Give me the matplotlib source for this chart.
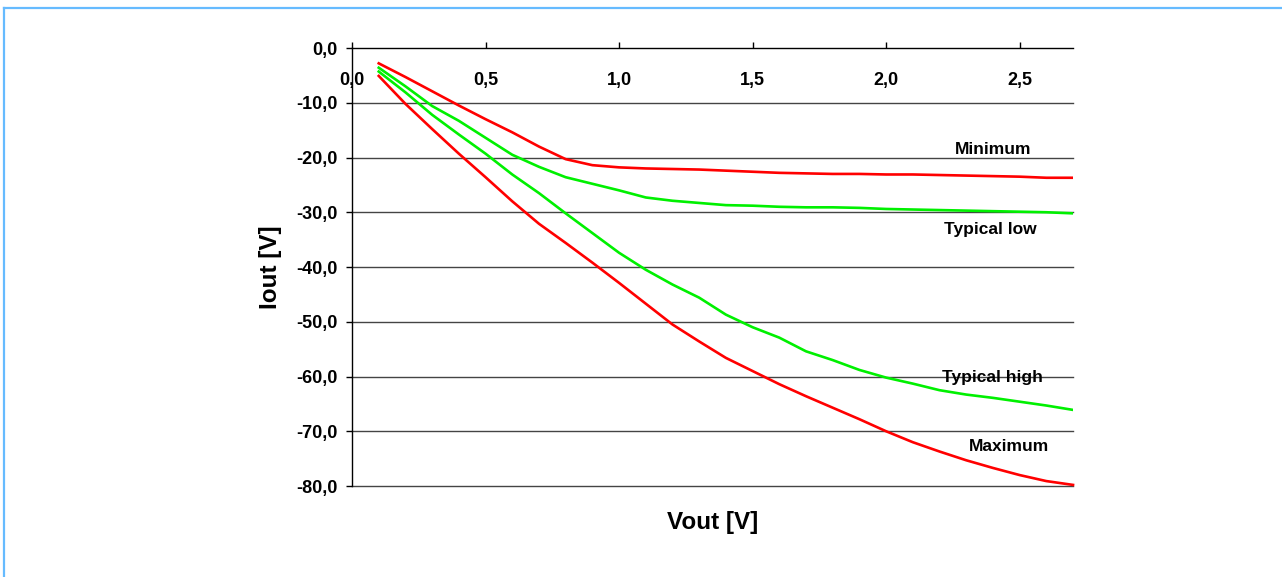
import matplotlib
matplotlib.use('Agg')
import matplotlib.pyplot as plt
from matplotlib.lines import Line2D
from matplotlib.ticker import FuncFormatter

# Vout [V]
vout = [0.1, 0.2, 0.3, 0.4, 0.5, 0.6, 0.7, 0.8, 0.9, 1.0, 1.1, 1.2, 1.3, 1.4,
        1.5, 1.6, 1.7, 1.8, 1.9, 2.0, 2.1, 2.2, 2.3, 2.4, 2.5, 2.6, 2.7]

# Iout curves
minimum = [-2.8, -5.3, -7.9, -10.5, -13.0, -15.4, -18.0, -20.3, -21.4, -21.8,
           -22.0, -22.1, -22.2, -22.4, -22.6, -22.8, -22.9, -23.0, -23.0, -23.1,
           -23.1, -23.2, -23.3, -23.4, -23.5, -23.7, -23.7]
typical_low = [-3.6, -7.0, -10.6, -13.3, -16.4, -19.5, -21.7, -23.6, -24.8, -26.0,
               -27.3, -27.9, -28.3, -28.7, -28.8, -29.0, -29.1, -29.1, -29.2, -29.4,
               -29.5, -29.6, -29.7, -29.8, -29.9, -30.0, -30.2]
typical_high = [-4.3, -8.1, -12.2, -15.8, -19.3, -23.1, -26.5, -30.2, -33.8, -37.4,
                -40.5, -43.2, -45.6, -48.7, -51.0, -52.9, -55.4, -57.0, -58.8, -60.2,
                -61.3, -62.5, -63.3, -63.9, -64.6, -65.3, -66.1]
maximum = [-5.1, -10.2, -14.8, -19.3, -23.6, -28.0, -32.1, -35.6, -39.2, -42.9,
           -46.7, -50.5, -53.6, -56.6, -59.0, -61.4, -63.6, -65.7, -67.8, -70.0,
           -72.0, -73.7, -75.3, -76.7, -78.0, -79.1, -79.8]

x_ticks = [0.0, 0.5, 1.0, 1.5, 2.0, 2.5]
y_ticks = [0, -10, -20, -30, -40, -50, -60, -70, -80]

# curve name labels: (text, x, y)
curve_labels = [('Minimum', 2.40, -18.6),
                ('Typical low', 2.39, -33.2),
                ('Typical high', 2.40, -60.1),
                ('Maximum', 2.46, -72.7)]

plt.rcParams['font.family'] = ['Liberation Sans', 'DejaVu Sans']
plt.rcParams['font.weight'] = 'bold'

fig = plt.figure(figsize=(12.82, 5.77), dpi=100)
ax = fig.add_axes([0.2746, 0.1577, 0.5624, 0.7591])

comma = FuncFormatter(lambda v, p: f'{v:.1f}'.replace('.', ','))

for yt in y_ticks:
    ax.axhline(yt, color='#444444' if yt != 0 else 'black', lw=1.0, zorder=1,
               clip_on=False)

ax.plot(vout, minimum, color='#ff0000', lw=1.9, zorder=3)
ax.plot(vout, typical_low, color='#00f000', lw=1.9, zorder=3)
ax.plot(vout, typical_high, color='#00f000', lw=1.9, zorder=3)
ax.plot(vout, maximum, color='#ff0000', lw=1.9, zorder=3, clip_on=False)

for txt, lx, ly in curve_labels:
    ax.text(lx, ly, txt, ha='center', va='center', fontsize=12.5,
            fontweight='bold', zorder=4)

ax.set_xlim(0, 2.7)
ax.set_ylim(-80, 0)
ax.set_xticks(x_ticks)
ax.set_yticks(y_ticks)
ax.xaxis.set_major_formatter(comma)
ax.yaxis.set_major_formatter(comma)
ax.xaxis.tick_top()
ax.tick_params(axis='x', direction='out', length=4.5, width=1, labelsize=13,
               pad=-34)
ax.tick_params(axis='y', direction='out', length=4.5, width=1, labelsize=13,
               pad=6)

for s in ['top', 'right', 'bottom']:
    ax.spines[s].set_visible(False)
ax.spines['left'].set_linewidth(1.0)

ax.set_xlabel('Vout [V]', fontsize=17.5, fontweight='bold', labelpad=18)
ax.xaxis.set_label_position('bottom')
ax.set_ylabel('Iout [V]', fontsize=17.5, fontweight='bold', labelpad=10)

# light blue frame on top and left edges
fig.add_artist(Line2D([3.5 / 1282, 1], [1 - 7.5 / 577, 1 - 7.5 / 577],
                      color='#66bbff', lw=1.6, transform=fig.transFigure))
fig.add_artist(Line2D([3.5 / 1282, 3.5 / 1282], [0, 1 - 7.5 / 577],
                      color='#66bbff', lw=1.6, transform=fig.transFigure))

fig.savefig('out.png', dpi=100)
